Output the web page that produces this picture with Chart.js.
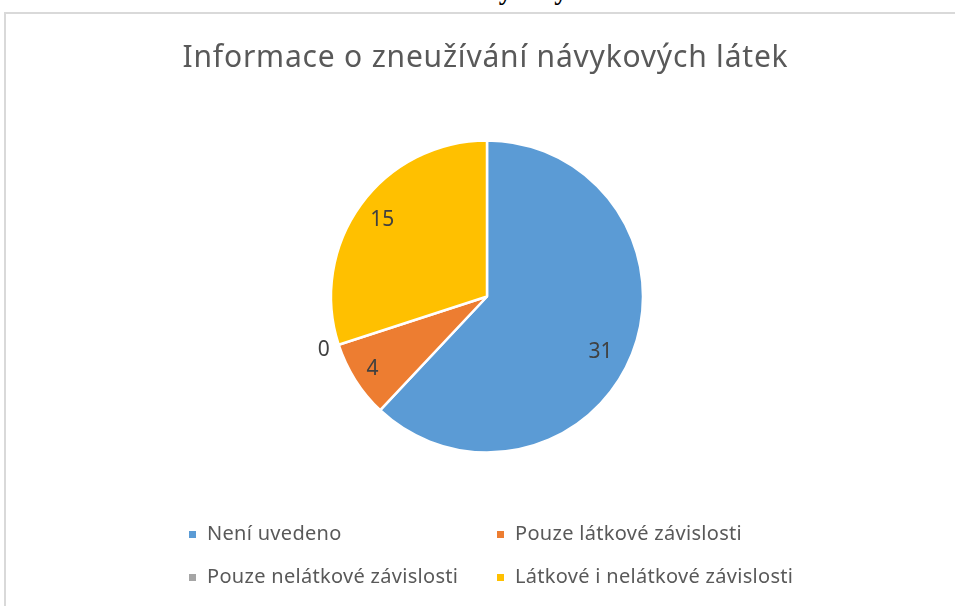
<!DOCTYPE html>
<html lang="cs">
<head>
<meta charset="UTF-8">
<title>Informace o zneužívání návykových látek</title>
<script src="https://cdn.jsdelivr.net/npm/chart.js@4.4.0/dist/chart.umd.min.js"></script>
<style>
    html, body {
        margin: 0;
        padding: 0;
        width: 955px;
        height: 606px;
        overflow: hidden;
        background: #ffffff;
        font-family: 'Noto Sans', sans-serif;
    }
    #caption {
        position: absolute;
        left: 180px;
        top: -23px;
        line-height: 27px;
        font-family: 'Liberation Serif', serif;
        font-size: 27px;
        font-weight: bold;
        white-space: nowrap;
        color: #000;
    }
    #frame {
        position: absolute;
        left: 4px;
        top: 12px;
        width: 1000px;
        height: 700px;
        border: 2px solid #d9d9d9;
    }
    #chartWrap {
        position: absolute;
        left: 0;
        top: 0;
        width: 955px;
        height: 606px;
    }
    #title {
        position: absolute;
        left: 0;
        width: 971px;
        top: 41px;
        line-height: 30px;
        text-align: center;
        font-size: 30px;
        letter-spacing: 0.8px;
        color: #595959;
        white-space: nowrap;
    }
    .legend-item {
        position: absolute;
        font-size: 20px;
        letter-spacing: 0.3px;
        color: #595959;
        white-space: nowrap;
        line-height: 22px;
    }
    .legend-box {
        position: absolute;
        width: 7px;
        height: 7px;
    }
</style>
</head>
<body>
<div id="caption">Informace o zneužívání návykových látek</div>
<div id="frame"></div>
<div id="chartWrap"><canvas id="pieChart" width="955" height="606"></canvas></div>
<div id="title">Informace o zneužívání návykových látek</div>
<div id="legend"></div>

<script>
// ==================== DATA ====================

const categories = ['Není uvedeno', 'Pouze látkové závislosti', 'Pouze nelátkové závislosti', 'Látkové i nelátkové závislosti'];
const values = [31, 4, 0, 15];
const sliceColors = ['#5b9bd5', '#ed7d31', '#a5a5a5', '#ffc000'];

// label placement (Excel "best fit"): share of radius, angle nudge in radians
const labelRadius = [0.81, 0.87, 1.1, 0.83];
const labelNudge = [0.08, 0, 0, 0];

// legend grid: column x and row y (box left / row middle)
const legendCols = [189, 497];
const legendRows = [534, 577];

// ==================== LABEL PLUGIN ====================

const sliceLabels = {
    id: 'sliceLabels',
    afterDatasetsDraw(chart) {
        const ctx = chart.ctx;
        const meta = chart.getDatasetMeta(0);
        ctx.save();
        ctx.font = '21px "Noto Sans"';
        ctx.fillStyle = '#404040';
        ctx.textAlign = 'center';
        ctx.textBaseline = 'middle';
        meta.data.forEach((arc, i) => {
            const p = arc.getProps(['x', 'y', 'startAngle', 'endAngle', 'outerRadius'], true);
            const mid = (p.startAngle + p.endAngle) / 2 + labelNudge[i];
            const r = p.outerRadius * labelRadius[i];
            ctx.fillText(String(values[i]), p.x + Math.cos(mid) * r, p.y + Math.sin(mid) * r);
        });
        ctx.restore();
    }
};

// ==================== LEGEND ====================

function buildLegend() {
    const legend = document.getElementById('legend');
    let html = '';
    categories.forEach((name, i) => {
        const x = legendCols[i % 2];
        const y = legendRows[Math.floor(i / 2)];
        html += `
            <div class="legend-box" style="left:${x}px; top:${y - 3}px; background:${sliceColors[i]};"></div>
            <div class="legend-item" style="left:${x + 18}px; top:${y - 12}px;">${name}</div>
        `;
    });
    legend.innerHTML = html;
}

// ==================== CHART ====================

function createPieChart() {
    const ctx = document.getElementById('pieChart');
    return new Chart(ctx, {
        type: 'pie',
        data: {
            labels: categories,
            datasets: [{
                data: values,
                backgroundColor: sliceColors,
                borderColor: '#ffffff',
                borderWidth: 2.5,
                radius: 156
            }]
        },
        options: {
            responsive: false,
            animation: false,
            layout: {
                padding: { left: 19, right: 0, top: 0, bottom: 13 }
            },
            plugins: {
                legend: { display: false },
                title: { display: false },
                tooltip: { enabled: false }
            }
        },
        plugins: [sliceLabels]
    });
}

window.addEventListener('DOMContentLoaded', () => {
    buildLegend();
    createPieChart();
});
</script>
</body>
</html>
